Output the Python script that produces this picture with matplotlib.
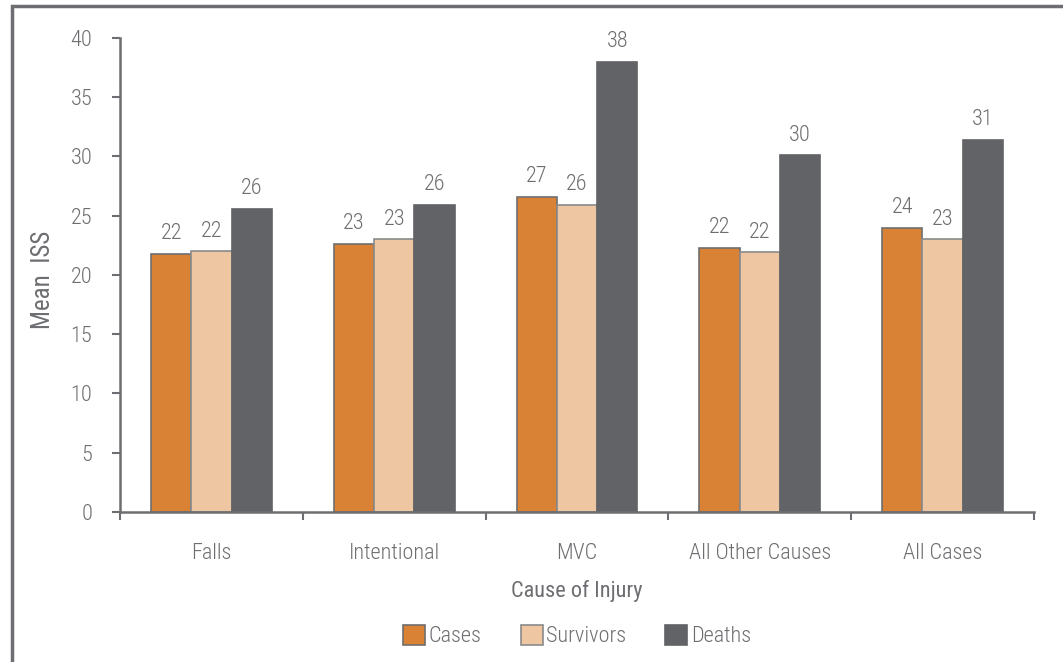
import matplotlib.pyplot as plt
import numpy as np
from matplotlib.patches import Rectangle

causes = ["Falls", "Intentional", "MVC", "All Other Causes", "All Cases"]
series = ["Cases", "Survivors", "Deaths"]
cases = [21.8, 22.6, 26.6, 22.3, 24.0]
survivors = [22.0, 23.0, 25.9, 21.9, 23.0]
deaths = [25.6, 25.9, 38.0, 30.1, 31.4]

colors = ["#D98236", "#EEC6A2", "#626366"]
edges = ["#6E6E6E", "#8A8A8A", "#626366"]
grey = "#6D6E71"
fs = 16

plt.rcParams["font.family"] = ["Roboto Condensed", "Archivo Narrow", "DejaVu Sans"]
plt.rcParams["font.weight"] = "light"
plt.rcParams["font.size"] = fs

fig = plt.figure(figsize=(10.63, 6.62), dpi=100)
ax = fig.add_axes([0.1129, 0.2266, 0.8598, 0.716])

x = np.arange(len(causes))
w = 0.22
for i, (name, vals) in enumerate(zip(series, [cases, survivors, deaths])):
    bars = ax.bar(x + (i - 1) * w, vals, w, color=colors[i], edgecolor=edges[i],
                  linewidth=1.2, label=name)
    for b, v in zip(bars, vals):
        ax.annotate(f"{round(v):d}", (b.get_x() + b.get_width() / 2, v),
                    xytext=(0, 7), textcoords="offset points",
                    ha="center", va="bottom", color=grey, fontsize=fs)

ax.set_xlim(-0.5, len(causes) - 0.5)
ax.set_ylim(0, 40)
ax.set_yticks(range(0, 41, 5))
ax.set_xticks(np.arange(len(causes) + 1) - 0.5)
ax.set_xticklabels([])
ax.set_xticks(x, minor=True)
ax.set_xticklabels(causes, minor=True)
ax.tick_params(axis="x", which="minor", length=0, pad=22, colors=grey, labelsize=fs)
ax.tick_params(axis="x", which="major", length=6, width=1.5, color=grey, direction="out")
ax.tick_params(axis="y", length=6, width=1.5, color=grey, labelcolor=grey, pad=14, labelsize=fs)

for s in ["top", "right"]:
    ax.spines[s].set_visible(False)
for s in ["left", "bottom"]:
    ax.spines[s].set_color(grey)
    ax.spines[s].set_linewidth(1.8)

ax.set_ylabel("Mean  ISS", color=grey, fontsize=18)
ax.yaxis.set_label_coords(-0.071, 0.489)
ax.set_xlabel("Cause of Injury", color=grey, fontsize=fs, labelpad=12)

leg = ax.legend(loc="upper center", bbox_to_anchor=(0.5, -0.196), ncol=3, frameon=False,
                handlelength=1.0, handleheight=1.0, handletextpad=0.15, columnspacing=1.75,
                fontsize=fs)
for t in leg.get_texts():
    t.set_color(grey)

fig.patches.append(Rectangle((12 / 1063, -0.1), 1.2, 1 - 6 / 662 + 0.1, transform=fig.transFigure,
                             fill=False, edgecolor=grey, linewidth=2.5))

fig.savefig("out.png", dpi=100)
